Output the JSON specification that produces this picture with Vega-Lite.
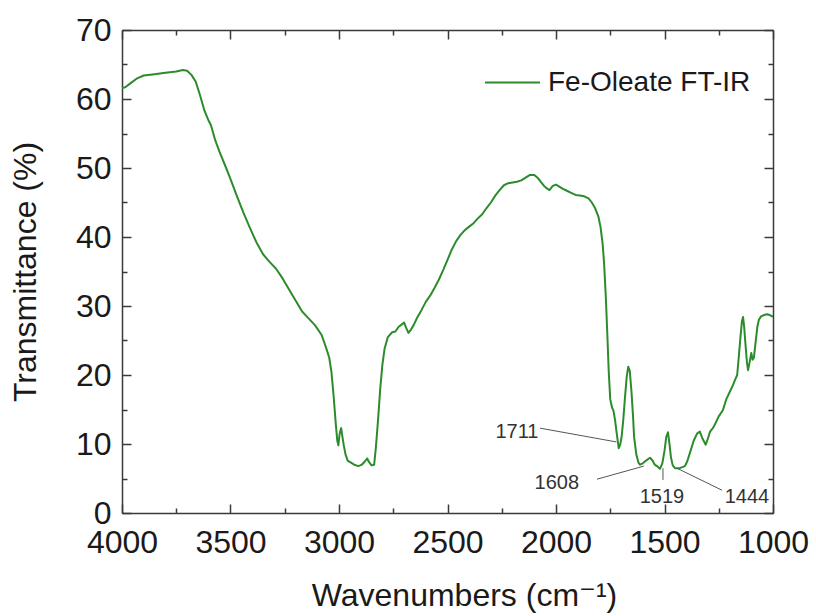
{
  "$schema": "https://vega.github.io/schema/vega-lite/v6.json",
  "width": 651,
  "height": 483,
  "autosize": {"type": "none"},
  "padding": {"left": 122, "top": 30, "right": 43, "bottom": 103},
  "background": "white",
  "config": {
    "view": {"stroke": null},
    "font": "Liberation Sans, Arial, DejaVu Sans, sans-serif",
    "axis": {
      "domainColor": "#3a3a3a",
      "domainWidth": 1.5,
      "tickColor": "#3a3a3a",
      "tickWidth": 1.5,
      "grid": false,
      "labelFont": "Liberation Sans, Arial, sans-serif",
      "labelFontSize": 32,
      "labelColor": "#1a1a1a",
      "titleFont": "Liberation Sans, Arial, DejaVu Sans, sans-serif",
      "titleFontSize": 32,
      "titleFontWeight": "normal",
      "titleColor": "#1a1a1a",
      "labelOverlap": false,
      "labelFlush": false
    }
  },
  "datasets": {
    "spectrum": [
      {"wavenumber": 4000, "transmittance": 61.6},
      {"wavenumber": 3985, "transmittance": 61.7},
      {"wavenumber": 3960, "transmittance": 62.3},
      {"wavenumber": 3930, "transmittance": 63.0},
      {"wavenumber": 3900, "transmittance": 63.4},
      {"wavenumber": 3850, "transmittance": 63.6},
      {"wavenumber": 3800, "transmittance": 63.8},
      {"wavenumber": 3750, "transmittance": 64.0},
      {"wavenumber": 3720, "transmittance": 64.2},
      {"wavenumber": 3700, "transmittance": 64.1},
      {"wavenumber": 3680, "transmittance": 63.5},
      {"wavenumber": 3660, "transmittance": 62.5},
      {"wavenumber": 3640, "transmittance": 60.5},
      {"wavenumber": 3620, "transmittance": 58.3},
      {"wavenumber": 3600, "transmittance": 56.8},
      {"wavenumber": 3590, "transmittance": 56.2},
      {"wavenumber": 3570, "transmittance": 54.0},
      {"wavenumber": 3550, "transmittance": 52.3},
      {"wavenumber": 3520, "transmittance": 50.0},
      {"wavenumber": 3500, "transmittance": 48.4},
      {"wavenumber": 3470, "transmittance": 45.9},
      {"wavenumber": 3440, "transmittance": 43.5},
      {"wavenumber": 3410, "transmittance": 41.3},
      {"wavenumber": 3380, "transmittance": 39.2},
      {"wavenumber": 3350, "transmittance": 37.5},
      {"wavenumber": 3320, "transmittance": 36.4},
      {"wavenumber": 3290, "transmittance": 35.4},
      {"wavenumber": 3260, "transmittance": 34.0},
      {"wavenumber": 3230, "transmittance": 32.4},
      {"wavenumber": 3200, "transmittance": 30.8},
      {"wavenumber": 3170, "transmittance": 29.2},
      {"wavenumber": 3140, "transmittance": 28.2},
      {"wavenumber": 3110, "transmittance": 27.2},
      {"wavenumber": 3080, "transmittance": 25.8},
      {"wavenumber": 3060, "transmittance": 24.0},
      {"wavenumber": 3045, "transmittance": 22.5},
      {"wavenumber": 3035, "transmittance": 20.5},
      {"wavenumber": 3025, "transmittance": 17.0},
      {"wavenumber": 3015, "transmittance": 13.0},
      {"wavenumber": 3008, "transmittance": 10.5},
      {"wavenumber": 3003, "transmittance": 9.8},
      {"wavenumber": 2997, "transmittance": 11.5},
      {"wavenumber": 2990, "transmittance": 12.3},
      {"wavenumber": 2985, "transmittance": 11.2},
      {"wavenumber": 2978, "transmittance": 9.8},
      {"wavenumber": 2970, "transmittance": 8.5},
      {"wavenumber": 2960, "transmittance": 7.6},
      {"wavenumber": 2945, "transmittance": 7.3},
      {"wavenumber": 2930, "transmittance": 7.0},
      {"wavenumber": 2910, "transmittance": 6.8},
      {"wavenumber": 2895, "transmittance": 7.0},
      {"wavenumber": 2880, "transmittance": 7.5},
      {"wavenumber": 2870, "transmittance": 7.9},
      {"wavenumber": 2862, "transmittance": 7.4},
      {"wavenumber": 2850, "transmittance": 6.9},
      {"wavenumber": 2838, "transmittance": 7.0},
      {"wavenumber": 2830, "transmittance": 9.5},
      {"wavenumber": 2820, "transmittance": 13.5},
      {"wavenumber": 2810, "transmittance": 18.0},
      {"wavenumber": 2800, "transmittance": 21.5},
      {"wavenumber": 2790, "transmittance": 23.8},
      {"wavenumber": 2775, "transmittance": 25.5},
      {"wavenumber": 2755, "transmittance": 26.2},
      {"wavenumber": 2740, "transmittance": 26.3},
      {"wavenumber": 2725, "transmittance": 27.0},
      {"wavenumber": 2712, "transmittance": 27.3},
      {"wavenumber": 2700, "transmittance": 27.6},
      {"wavenumber": 2690, "transmittance": 26.8},
      {"wavenumber": 2680, "transmittance": 26.1},
      {"wavenumber": 2670, "transmittance": 26.5},
      {"wavenumber": 2655, "transmittance": 27.3},
      {"wavenumber": 2640, "transmittance": 28.3},
      {"wavenumber": 2620, "transmittance": 29.4},
      {"wavenumber": 2600, "transmittance": 30.6},
      {"wavenumber": 2580, "transmittance": 31.5},
      {"wavenumber": 2560, "transmittance": 32.6},
      {"wavenumber": 2540, "transmittance": 33.8},
      {"wavenumber": 2520, "transmittance": 35.2},
      {"wavenumber": 2500, "transmittance": 36.7},
      {"wavenumber": 2480, "transmittance": 38.2},
      {"wavenumber": 2460, "transmittance": 39.4},
      {"wavenumber": 2440, "transmittance": 40.3},
      {"wavenumber": 2420, "transmittance": 41.0},
      {"wavenumber": 2400, "transmittance": 41.5},
      {"wavenumber": 2380, "transmittance": 42.0},
      {"wavenumber": 2360, "transmittance": 42.7},
      {"wavenumber": 2340, "transmittance": 43.3},
      {"wavenumber": 2320, "transmittance": 44.2},
      {"wavenumber": 2300, "transmittance": 45.0},
      {"wavenumber": 2280, "transmittance": 46.0},
      {"wavenumber": 2260, "transmittance": 46.8},
      {"wavenumber": 2240, "transmittance": 47.5},
      {"wavenumber": 2220, "transmittance": 47.8},
      {"wavenumber": 2200, "transmittance": 47.9},
      {"wavenumber": 2180, "transmittance": 48.0},
      {"wavenumber": 2160, "transmittance": 48.2},
      {"wavenumber": 2140, "transmittance": 48.6},
      {"wavenumber": 2120, "transmittance": 49.0},
      {"wavenumber": 2100, "transmittance": 49.0},
      {"wavenumber": 2085, "transmittance": 48.6},
      {"wavenumber": 2070, "transmittance": 48.0},
      {"wavenumber": 2055, "transmittance": 47.4},
      {"wavenumber": 2040, "transmittance": 47.0},
      {"wavenumber": 2030, "transmittance": 46.8},
      {"wavenumber": 2015, "transmittance": 47.4},
      {"wavenumber": 2000, "transmittance": 47.6},
      {"wavenumber": 1985, "transmittance": 47.3},
      {"wavenumber": 1970, "transmittance": 47.0},
      {"wavenumber": 1950, "transmittance": 46.7},
      {"wavenumber": 1930, "transmittance": 46.4},
      {"wavenumber": 1910, "transmittance": 46.1},
      {"wavenumber": 1890, "transmittance": 46.0},
      {"wavenumber": 1870, "transmittance": 45.9},
      {"wavenumber": 1850, "transmittance": 45.6},
      {"wavenumber": 1835, "transmittance": 45.0},
      {"wavenumber": 1820, "transmittance": 44.2},
      {"wavenumber": 1805, "transmittance": 43.0},
      {"wavenumber": 1795, "transmittance": 41.5},
      {"wavenumber": 1785, "transmittance": 39.0},
      {"wavenumber": 1778, "transmittance": 36.0},
      {"wavenumber": 1770, "transmittance": 31.0},
      {"wavenumber": 1763, "transmittance": 25.5},
      {"wavenumber": 1757, "transmittance": 20.5},
      {"wavenumber": 1750, "transmittance": 16.5},
      {"wavenumber": 1742, "transmittance": 15.3},
      {"wavenumber": 1735, "transmittance": 14.8},
      {"wavenumber": 1728, "transmittance": 13.5},
      {"wavenumber": 1720, "transmittance": 11.5},
      {"wavenumber": 1711, "transmittance": 9.4},
      {"wavenumber": 1704, "transmittance": 9.9},
      {"wavenumber": 1697, "transmittance": 11.2},
      {"wavenumber": 1690, "transmittance": 13.5},
      {"wavenumber": 1682, "transmittance": 16.8},
      {"wavenumber": 1674, "transmittance": 19.8},
      {"wavenumber": 1667, "transmittance": 21.2},
      {"wavenumber": 1660, "transmittance": 20.6},
      {"wavenumber": 1652, "transmittance": 17.5},
      {"wavenumber": 1645, "transmittance": 14.0},
      {"wavenumber": 1640, "transmittance": 11.0},
      {"wavenumber": 1630, "transmittance": 8.5},
      {"wavenumber": 1620, "transmittance": 7.3},
      {"wavenumber": 1613, "transmittance": 7.0},
      {"wavenumber": 1600, "transmittance": 7.2},
      {"wavenumber": 1585, "transmittance": 7.6},
      {"wavenumber": 1567, "transmittance": 8.0},
      {"wavenumber": 1555, "transmittance": 7.6},
      {"wavenumber": 1545, "transmittance": 7.0},
      {"wavenumber": 1535, "transmittance": 6.8},
      {"wavenumber": 1521, "transmittance": 6.4},
      {"wavenumber": 1510, "transmittance": 7.2},
      {"wavenumber": 1500, "transmittance": 9.0},
      {"wavenumber": 1492, "transmittance": 11.0},
      {"wavenumber": 1484, "transmittance": 11.7},
      {"wavenumber": 1477, "transmittance": 10.0},
      {"wavenumber": 1470, "transmittance": 8.0},
      {"wavenumber": 1462, "transmittance": 6.9},
      {"wavenumber": 1452, "transmittance": 6.5},
      {"wavenumber": 1430, "transmittance": 6.5},
      {"wavenumber": 1406, "transmittance": 6.8},
      {"wavenumber": 1395, "transmittance": 7.5},
      {"wavenumber": 1380, "transmittance": 9.0},
      {"wavenumber": 1365, "transmittance": 10.5},
      {"wavenumber": 1350, "transmittance": 11.5},
      {"wavenumber": 1337, "transmittance": 11.8},
      {"wavenumber": 1325, "transmittance": 10.8},
      {"wavenumber": 1310, "transmittance": 9.9},
      {"wavenumber": 1300, "transmittance": 10.8},
      {"wavenumber": 1290, "transmittance": 11.8},
      {"wavenumber": 1277, "transmittance": 12.3},
      {"wavenumber": 1265, "transmittance": 13.0},
      {"wavenumber": 1250, "transmittance": 14.0},
      {"wavenumber": 1231, "transmittance": 14.9},
      {"wavenumber": 1215, "transmittance": 16.5},
      {"wavenumber": 1200, "transmittance": 17.5},
      {"wavenumber": 1185, "transmittance": 18.5},
      {"wavenumber": 1175, "transmittance": 19.3},
      {"wavenumber": 1165, "transmittance": 20.0},
      {"wavenumber": 1158, "transmittance": 22.5},
      {"wavenumber": 1150, "transmittance": 25.5},
      {"wavenumber": 1143, "transmittance": 27.8},
      {"wavenumber": 1138, "transmittance": 28.4},
      {"wavenumber": 1133, "transmittance": 27.0},
      {"wavenumber": 1127, "transmittance": 24.5},
      {"wavenumber": 1120, "transmittance": 21.8},
      {"wavenumber": 1115, "transmittance": 20.7},
      {"wavenumber": 1108, "transmittance": 21.8},
      {"wavenumber": 1100, "transmittance": 23.2},
      {"wavenumber": 1094, "transmittance": 22.2},
      {"wavenumber": 1088, "transmittance": 22.5},
      {"wavenumber": 1080, "transmittance": 24.8},
      {"wavenumber": 1072, "transmittance": 27.0},
      {"wavenumber": 1065, "transmittance": 28.0},
      {"wavenumber": 1055, "transmittance": 28.5},
      {"wavenumber": 1040, "transmittance": 28.7},
      {"wavenumber": 1028, "transmittance": 28.8},
      {"wavenumber": 1015, "transmittance": 28.7},
      {"wavenumber": 1005, "transmittance": 28.5},
      {"wavenumber": 1000, "transmittance": 28.5}
    ],
    "peakLabels": [
      {"label": "1711", "wavenumber": 2180, "transmittance": 11.7},
      {"label": "1608", "wavenumber": 1996, "transmittance": 4.35},
      {"label": "1519", "wavenumber": 1512, "transmittance": 2.3},
      {"label": "1444", "wavenumber": 1120, "transmittance": 2.3}
    ],
    "leaders": [
      {"peak": "1711", "x1": 2074, "y1": 12.3, "x2": 1722, "y2": 10.3},
      {"peak": "1608", "x1": 1811, "y1": 4.9, "x2": 1595, "y2": 6.8},
      {"peak": "1519", "x1": 1507, "y1": 4.8, "x2": 1507, "y2": 6.5},
      {"peak": "1444", "x1": 1443, "y1": 6.5, "x2": 1235, "y2": 3.3}
    ]
  },
  "layer": [
    {
      "data": {"name": "spectrum"},
      "mark": {"type": "line", "strokeWidth": 2, "strokeJoin": "round"},
      "encoding": {
        "x": {
          "field": "wavenumber", "type": "quantitative",
          "scale": {"domain": [1000, 4000], "reverse": true, "nice": false, "zero": false},
          "axis": {
            "orient": "bottom",
            "title": "Wavenumbers (cm⁻¹)",
            "values": [1000, 1250, 1500, 1750, 2000, 2250, 2500, 2750, 3000, 3250, 3500, 3750, 4000],
            "format": "d",
            "labelExpr": "datum.value % 500 === 0 ? datum.label : ''",
            "tickSize": {"condition": {"test": "datum.value % 500 === 0", "value": -9}, "value": -5},
            "labelPadding": 23,
            "titleBaseline": "alphabetic",
            "titleX": 342,
            "titleY": 92
          }
        },
        "y": {
          "field": "transmittance", "type": "quantitative",
          "scale": {"domain": [0, 70], "nice": false, "zero": true},
          "axis": {
            "orient": "left",
            "title": "Transmittance (%)",
            "values": [0, 5, 10, 15, 20, 25, 30, 35, 40, 45, 50, 55, 60, 65, 70],
            "format": "d",
            "labelExpr": "datum.value % 10 === 0 ? datum.label : ''",
            "tickSize": {"condition": {"test": "datum.value % 10 === 0", "value": -9}, "value": -5},
            "labelPadding": 20,
            "titleX": -80
          }
        },
        "color": {
          "datum": "Fe-Oleate FT-IR",
          "type": "nominal",
          "scale": {"range": ["#2c8c2c"]},
          "legend": {
            "title": null,
            "orient": "none",
            "legendX": 362,
            "legendY": 24,
            "padding": 0,
            "symbolType": "stroke",
            "symbolSize": 3025,
            "symbolStrokeWidth": 2,
            "labelFontSize": 28,
            "labelFont": "Liberation Sans, Arial, sans-serif",
            "labelColor": "#1a1a1a",
            "labelOffset": 7,
            "labelLimit": 400
          }
        }
      }
    },
    {
      "data": {"name": "spectrum"},
      "mark": {"type": "line", "opacity": 0},
      "encoding": {
        "x": {
          "field": "wavenumber", "type": "quantitative",
          "scale": {"domain": [1000, 4000], "reverse": true, "nice": false, "zero": false},
          "axis": {
            "orient": "top",
            "title": null,
            "labels": false,
            "values": [1000, 1250, 1500, 1750, 2000, 2250, 2500, 2750, 3000, 3250, 3500, 3750, 4000],
            "tickSize": {"condition": {"test": "datum.value % 500 === 0", "value": -9}, "value": -5}
          }
        },
        "y": {
          "field": "transmittance", "type": "quantitative",
          "scale": {"domain": [0, 70], "nice": false, "zero": true},
          "axis": {
            "orient": "right",
            "title": null,
            "labels": false,
            "values": [0, 5, 10, 15, 20, 25, 30, 35, 40, 45, 50, 55, 60, 65, 70],
            "tickSize": {"condition": {"test": "datum.value % 10 === 0", "value": -9}, "value": -5}
          }
        }
      }
    },
    {
      "data": {"name": "leaders"},
      "mark": {"type": "rule", "color": "#555555", "strokeWidth": 1},
      "encoding": {
        "x": {"field": "x1", "type": "quantitative", "axis": null},
        "y": {"field": "y1", "type": "quantitative", "axis": null},
        "x2": {"field": "x2"},
        "y2": {"field": "y2"}
      }
    },
    {
      "data": {"name": "peakLabels"},
      "mark": {"type": "text", "fontSize": 20, "color": "#333333", "font": "Liberation Sans, Arial, sans-serif", "align": "center", "baseline": "middle"},
      "encoding": {
        "x": {"field": "wavenumber", "type": "quantitative", "axis": null},
        "y": {"field": "transmittance", "type": "quantitative", "axis": null},
        "text": {"field": "label"}
      }
    }
  ],
  "resolve": {"axis": {"x": "independent", "y": "independent"}}
}
